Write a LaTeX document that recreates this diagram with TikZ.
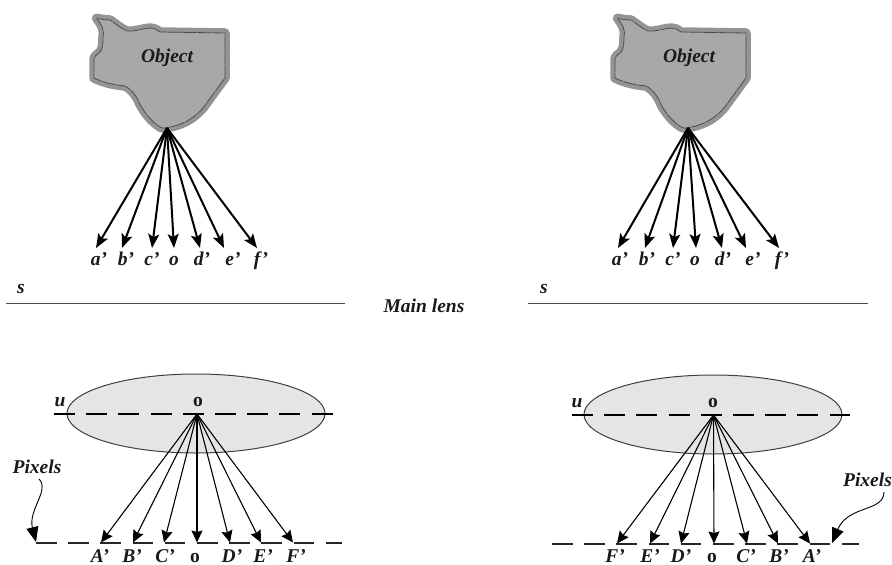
\documentclass[tikz,border=0pt]{standalone}
\usepackage{fontspec}
\setmainfont{Liberation Serif}
\usetikzlibrary{arrows.meta,shapes.geometric}
\tikzset{
  lbl/.style={font=\bfseries\itshape\fontsize{19.5}{20}\selectfont,inner sep=0pt,text=black!90},
  lblup/.style={font=\bfseries\fontsize{19.5}{20}\selectfont,inner sep=0pt,text=black!90},
  rowlbl/.style={lbl,anchor=base},
  ray/.style={line width=2pt,-{Stealth[length=14pt,width=11pt,inset=3pt]}},
  thinray/.style={line width=1.1pt,-{Stealth[length=12pt,width=11pt,inset=1.5pt]}},
  callout/.style={line width=0.9pt,-{Triangle[length=15pt,width=12pt]}},
  lensbody/.style={draw=black!75,line width=1pt,fill=black!10},
  axisline/.style={line width=1.1pt,dash pattern=on 21pt off 11.2pt},
  rowline/.style={line width=1.1pt,black!85,dash pattern=on 20.5pt off 11.7pt},
  baseline/.style={line width=0.9pt,black!70},
  objfill/.style={fill=black!34,draw=black!42,line width=9.5pt,line join=round},
  objinner/.style={fill=black!34},
  objedge/.style={draw=black!70,line width=0.8pt,dash pattern=on 14pt off 0.8pt}
}
% Outline of the object, drawn at the given horizontal shift
\newcommand{\objpath}{(96.7,18.3) .. controls (101,24) and (105,30) .. (103,37)
  .. controls (103,46) and (102,50) .. (100,52) .. controls (96,56) and (94,56) .. (94,60)
  -- (94,78) .. controls (104,83) and (115,85) .. (125,86)
  .. controls (132,90) and (134,93) .. (138,100) .. controls (143,112) and (152,122) .. (160,127)
  .. controls (164,129) and (167,128) .. (170,127) .. controls (186,124) and (196,116) .. (203,108)
  -- (225,78) -- (225,33) -- (160,32) .. controls (156,29) and (153,28) .. (150,28)
  .. controls (140,29) and (134,32) .. (127,31) .. controls (120,28) and (112,21) .. (110,20)
  .. controls (105,20) and (100,19) .. (96.7,18.3) -- cycle}
\begin{document}
\begin{tikzpicture}[x=1pt,y=-1pt]
\useasboundingbox (0,0) rectangle (892,565);

% Left object with its rays
\begin{scope}
  \path[objfill] \objpath;
  \path[objinner,objedge] \objpath;
  \node[lbl] (objL) at (167,58) {Object};
  \coordinate (apexL) at (167,128);
  \foreach \n/\x/\lx/\t in {a/96/99/a’,b/122/126/b’,c/152/152/c’,o/174/174/o,d/200/202/d’,e/224/233/e’,f/257/261/f’}{
    \coordinate (tipL\n) at (\x,248);
    \draw[ray] (apexL) -- (tipL\n);
    \node[rowlbl] (lblL\n) at (\lx,265) {\t};
  }
\end{scope}

% Right object with its rays
\begin{scope}[xshift=521pt]
  \path[objfill] \objpath;
  \path[objinner,objedge] \objpath;
  \node[lbl] (objR) at (168,58) {Object};
  \coordinate (apexR) at (167,128);
  \foreach \n/\x/\lx/\t in {a/97/99/a’,b/124/126/b’,c/152/152/c’,o/175/174/o,d/201/202/d’,e/225/232/e’,f/258/261/f’}{
    \coordinate (tipR\n) at (\x,248);
    \draw[ray] (apexR) -- (tipR\n);
    \node[rowlbl] (lblR\n) at (\lx,265) {\t};
  }
\end{scope}

% Sensor planes s
\node[rowlbl] (sL) at (21,293) {s};
\node[rowlbl] (sR) at (544,293) {s};
\coordinate (sLa) at (6,303);
\coordinate (sLb) at (345,303);
\coordinate (sRa) at (528,303);
\coordinate (sRb) at (868,303);
\draw[baseline] (sLa) -- (sLb);
\draw[baseline] (sRa) -- (sRb);
\node[lbl] (lens) at (424,306) {Main lens};

% Lenses
\node[lensbody,ellipse,minimum width=258pt,minimum height=79pt,inner sep=0pt] (lensL) at (196,413.5) {};
\node[lensbody,ellipse,minimum width=258pt,minimum height=79pt,inner sep=0pt] (lensR) at (713,414.5) {};
\node[lbl] (uL) at (60,402) {u};
\node[lbl] (uR) at (577,403) {u};
\node[lblup] (oL) at (198,402) {o};
\node[lblup] (oR) at (713,403) {o};
\coordinate (uLa) at (54,414);
\coordinate (uLb) at (333,414);
\coordinate (uRa) at (572,415);
\coordinate (uRb) at (850,415);
\draw[axisline] (uLa) -- (uLb);
\draw[axisline] (uRa) -- (uRb);

% Pixel rows
\coordinate (rowLa) at (36,543);
\coordinate (rowLb) at (342,543);
\coordinate (rowRa) at (552,544);
\coordinate (rowRb) at (859,544);
\draw[rowline] (rowLa) -- (rowLb);
\draw[rowline] (rowRa) -- (rowRb);

% Rays below the left lens
\coordinate (apexLo) at (197,414);
\foreach \n/\x/\lx/\t in {A/101/100/A’,B/133/132/B’,C/164/165/C’,O/197/195/\textup{o},D/230/232/D’,E/261/263/E’,F/293/296/F’}{
  \coordinate (tipLo\n) at (\x,542.5);
  \draw[thinray] (apexLo) -- (tipLo\n);
  \node[rowlbl] (lblLo\n) at (\lx,562) {\t};
}

% Rays below the right lens
\coordinate (apexRo) at (713.5,415);
\foreach \n/\x/\lx/\t in {F/617/615/F’,E/650/650/E’,D/681/681/D’,O/714/712/\textup{o},C/747/746/C’,B/778/779/B’,A/810/812/A’}{
  \coordinate (tipRo\n) at (\x,543.5);
  \draw[thinray] (apexRo) -- (tipRo\n);
  \node[rowlbl] (lblRo\n) at (\lx,562) {\t};
}

% Pixel callouts
\node[lbl] (pixL) at (37,467) {Pixels};
\node[lbl] (pixR) at (867.5,480) {Pixels};
\coordinate (pixLs) at (39,479);
\coordinate (pixLt) at (36,542);
\coordinate (pixRs) at (884,492);
\coordinate (pixRt) at (832,543);
\draw[callout] (pixLs) .. controls (50,490) and (28,510) .. (pixLt);
\draw[callout] (pixRs) .. controls (884,512) and (848,505) .. (pixRt);
\end{tikzpicture}
\end{document}
